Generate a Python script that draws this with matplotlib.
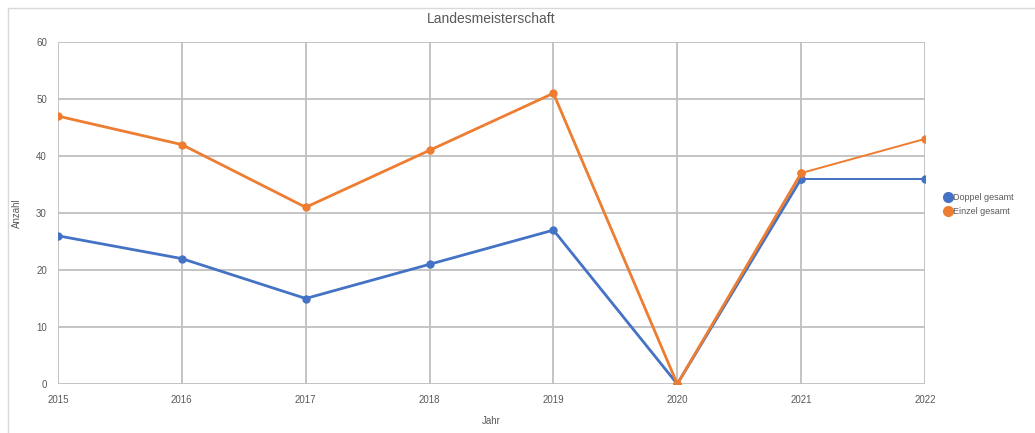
import matplotlib.pyplot as plt
from matplotlib.patches import Rectangle

years = [2015, 2016, 2017, 2018, 2019, 2020, 2021, 2022]
doppel = [26, 22, 15, 21, 27, 0, 36, 36]
einzel = [47, 42, 31, 41, 51, 0, 37, 43]

blue = '#4472C4'
orange = '#ED7D31'
grid_col = '#BFBFBF'
text_col = '#595959'

plt.rcParams['font.family'] = ['Liberation Sans', 'DejaVu Sans']

fig = plt.figure(figsize=(10.35, 4.33), dpi=100)
# outer chart frame (screenshot border)
fig.patches.append(Rectangle((8 / 1035, -0.1), 1.2, 1.1 - 8 / 433,
                             transform=fig.transFigure, fill=False,
                             edgecolor='#D9D9D9', linewidth=1.0))

ax = fig.add_axes([58 / 1035, 1 - 384 / 433, (925 - 58) / 1035, (384 - 42) / 433])

# main segments thick, last segment thinner (as in reference)
ax.plot(years[:7], doppel[:7], color=blue, lw=2.0, marker='o', ms=5,
        label='Doppel gesamt', zorder=3)
ax.plot(years[6:], doppel[6:], color=blue, lw=1.4, marker='o', ms=5, zorder=3)
ax.plot(years[:7], einzel[:7], color=orange, lw=2.0, marker='o', ms=5,
        label='Einzel gesamt', zorder=4)
ax.plot(years[6:], einzel[6:], color=orange, lw=1.4, marker='o', ms=5, zorder=4)

ax.set_xlim(years[0], years[-1])
ax.set_ylim(0, 60)
ax.set_xticks(years)
ax.set_yticks(range(0, 61, 10))
ax.grid(True, color=grid_col, linewidth=1.3)
ax.set_axisbelow(True)
for s in ax.spines.values():
    s.set_visible(False)
ax.tick_params(length=0, labelsize=7, colors=text_col)
ax.tick_params(axis='x', pad=8)
ax.tick_params(axis='y', pad=8)

ax.set_title('Landesmeisterschaft', fontsize=10, color=text_col, pad=14)
ax.set_xlabel('Jahr', fontsize=7, color=text_col, labelpad=8)
ax.set_ylabel('Anzahl', fontsize=7, color=text_col, labelpad=10)

leg = ax.legend(loc='center left', bbox_to_anchor=(1.022, 0.525), frameon=False,
                fontsize=6.5, handlelength=0.8, handletextpad=0.2,
                labelspacing=0.55, borderpad=0, borderaxespad=0,
                labelcolor=text_col)
for h in leg.legend_handles:
    h.set_linewidth(0)
    h.set_markersize(7)

fig.savefig('out.png', dpi=100)
